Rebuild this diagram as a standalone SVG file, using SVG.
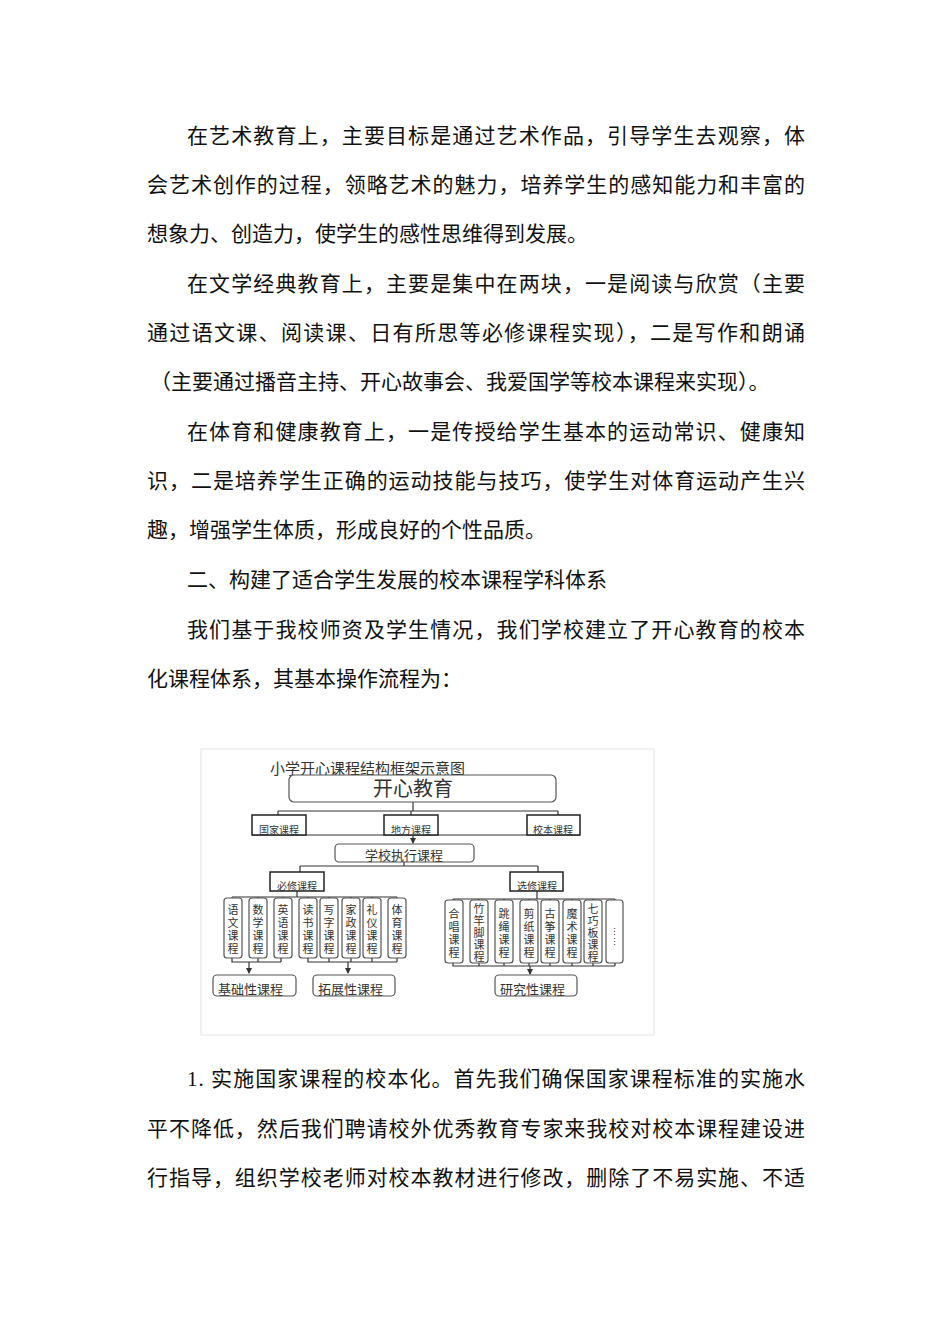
<svg xmlns="http://www.w3.org/2000/svg" width="950" height="1344" viewBox="0 0 950 1344">
<style>
.p{font-family:"Liberation Serif","Noto Sans CJK SC",serif;font-size:21px;fill:#111}
.d{font-family:"Liberation Serif","Noto Sans CJK SC",serif;fill:#333}
.b{fill:#fff;stroke:#555;stroke-width:1.2}
.k{fill:#fff;stroke:#222;stroke-width:1.5}
.l{stroke:#333;stroke-width:1.2;fill:none}
.v{font-size:11px;text-anchor:middle}
</style>
<defs><marker id="a" viewBox="0 0 6 6" refX="5" refY="3" markerWidth="5" markerHeight="5" orient="auto"><path d="M0,0L6,3L0,6z" fill="#333"/></marker></defs>
<rect width="950" height="1344" fill="#fff"/>
<g id="body">
<text class="p" x="187" y="143" textLength="618" lengthAdjust="spacing">在艺术教育上，主要目标是通过艺术作品，引导学生去观察，体</text>
<text class="p" x="147" y="192" textLength="658" lengthAdjust="spacing">会艺术创作的过程，领略艺术的魅力，培养学生的感知能力和丰富的</text>
<text class="p" x="147" y="241">想象力、创造力，使学生的感性思维得到发展。</text>
<text class="p" x="187" y="291" textLength="618" lengthAdjust="spacing">在文学经典教育上，主要是集中在两块，一是阅读与欣赏（主要</text>
<text class="p" x="147" y="340" textLength="658" lengthAdjust="spacing">通过语文课、阅读课、日有所思等必修课程实现），二是写作和朗诵</text>
<text class="p" x="150" y="389">（主要通过播音主持、开心故事会、我爱国学等校本课程来实现）。</text>
<text class="p" x="187" y="439" textLength="618" lengthAdjust="spacing">在体育和健康教育上，一是传授给学生基本的运动常识、健康知</text>
<text class="p" x="147" y="488" textLength="658" lengthAdjust="spacing">识，二是培养学生正确的运动技能与技巧，使学生对体育运动产生兴</text>
<text class="p" x="147" y="537">趣，增强学生体质，形成良好的个性品质。</text>
<text class="p" x="187" y="587">二、构建了适合学生发展的校本课程学科体系</text>
<text class="p" x="187" y="637" textLength="618" lengthAdjust="spacing">我们基于我校师资及学生情况，我们学校建立了开心教育的校本</text>
<text class="p" x="147" y="686">化课程体系，其基本操作流程为：</text>
<text class="p" x="187" y="1086" textLength="618" lengthAdjust="spacing">1. 实施国家课程的校本化。首先我们确保国家课程标准的实施水</text>
<text class="p" x="147" y="1136" textLength="658" lengthAdjust="spacing">平不降低，然后我们聘请校外优秀教育专家来我校对校本课程建设进</text>
<text class="p" x="147" y="1185" textLength="658" lengthAdjust="spacing">行指导，组织学校老师对校本教材进行修改，删除了不易实施、不适</text>
</g>
<rect x="201" y="749" width="453" height="286" fill="none" stroke="#e4e4e4"/>
<text class="d" x="270" y="774" font-size="15">小学开心课程结构框架示意图</text>
<g id="connectors">
<path class="l" d="M413,802V811M278,811H558M278,811V816M411,811V816M558,811V816M252,835H580"/>
<path class="l" d="M413,835V843" marker-end="url(#a)"/>
<path class="l" d="M404,862V866M300,866H538M300,866V872M538,866V872"/>
<path class="l" d="M297,890V897M232,897H397M232,897V899M258,897V899M283,897V899M308,897V899M329,897V899M351,897V899M372,897V899M397,897V899"/>
<path class="l" d="M232,958V962H281M258,958V962M281,958V962M308,958V962H397M329,958V962M351,958V962M372,958V962M397,958V962"/>
<path class="l" d="M249,962V973" marker-end="url(#a)"/>
<path class="l" d="M348,962V973" marker-end="url(#a)"/>
<path class="l" d="M537,890V899M453,899H615M453,899V900M479,899V900M504,899V900M529,899V900M550,899V900M572,899V900M593,899V900M615,899V900"/>
<path class="l" d="M453,963V966H615M479,963V966M504,963V966M529,963V966M550,963V966M572,963V966M593,963V966M615,963V966"/>
<path class="l" d="M530,966V974" marker-end="url(#a)"/>
</g>
<g id="n-top"><rect class="b" x="289" y="775" width="267" height="27" rx="5"/><text class="d" x="413" y="796" font-size="20" text-anchor="middle">开心教育</text></g>
<g id="n-guojia"><rect class="k" x="252" y="815" width="54" height="20"/><text class="d" x="279" y="834" font-size="10" text-anchor="middle">国家课程</text></g>
<g id="n-difang"><rect class="k" x="384" y="815" width="54" height="20"/><text class="d" x="411" y="834" font-size="10" text-anchor="middle">地方课程</text></g>
<g id="n-xiaoben"><rect class="k" x="527" y="815" width="53" height="20"/><text class="d" x="553" y="834" font-size="10" text-anchor="middle">校本课程</text></g>
<g id="n-zhixing"><rect class="b" x="335" y="844" width="139" height="18" rx="4"/><text class="d" x="404" y="860" font-size="13" text-anchor="middle">学校执行课程</text></g>
<g id="n-bixiu"><rect class="k" x="270" y="872" width="54" height="19"/><text class="d" x="297" y="890" font-size="10" text-anchor="middle">必修课程</text></g>
<g id="n-xuanxiu"><rect class="k" x="510" y="872" width="53" height="19"/><text class="d" x="537" y="890" font-size="10" text-anchor="middle">选修课程</text></g>
<g class="d v">
<g id="n1"><rect class="b" x="224" y="898" width="18" height="60" rx="3"/><text x="233" y="914">语</text><text x="233" y="927">文</text><text x="233" y="940">课</text><text x="233" y="953">程</text></g>
<g id="n2"><rect class="b" x="249" y="898" width="18" height="60" rx="3"/><text x="258" y="914">数</text><text x="258" y="927">学</text><text x="258" y="940">课</text><text x="258" y="953">程</text></g>
<g id="n3"><rect class="b" x="274" y="898" width="18" height="60" rx="3"/><text x="283" y="914">英</text><text x="283" y="927">语</text><text x="283" y="940">课</text><text x="283" y="953">程</text></g>
<g id="n4"><rect class="b" x="299" y="898" width="18" height="60" rx="3"/><text x="308" y="914">读</text><text x="308" y="927">书</text><text x="308" y="940">课</text><text x="308" y="953">程</text></g>
<g id="n5"><rect class="b" x="320" y="898" width="18" height="60" rx="3"/><text x="329" y="914">写</text><text x="329" y="927">字</text><text x="329" y="940">课</text><text x="329" y="953">程</text></g>
<g id="n6"><rect class="b" x="342" y="898" width="18" height="60" rx="3"/><text x="351" y="914">家</text><text x="351" y="927">政</text><text x="351" y="940">课</text><text x="351" y="953">程</text></g>
<g id="n7"><rect class="b" x="363" y="898" width="18" height="60" rx="3"/><text x="372" y="914">礼</text><text x="372" y="927">仪</text><text x="372" y="940">课</text><text x="372" y="953">程</text></g>
<g id="n8"><rect class="b" x="388" y="898" width="18" height="60" rx="3"/><text x="397" y="914">体</text><text x="397" y="927">育</text><text x="397" y="940">课</text><text x="397" y="953">程</text></g>
<g id="m1"><rect class="b" x="445" y="900" width="18" height="63" rx="3"/><text x="454" y="918">合</text><text x="454" y="931">唱</text><text x="454" y="944">课</text><text x="454" y="957">程</text></g>
<g id="m2"><rect class="b" x="470" y="900" width="18" height="63" rx="3"/><text x="479" y="913">竹</text><text x="479" y="925">竿</text><text x="479" y="937">脚</text><text x="479" y="949">课</text><text x="479" y="961">程</text></g>
<g id="m3"><rect class="b" x="495" y="900" width="18" height="63" rx="3"/><text x="504" y="918">跳</text><text x="504" y="931">绳</text><text x="504" y="944">课</text><text x="504" y="957">程</text></g>
<g id="m4"><rect class="b" x="520" y="900" width="18" height="63" rx="3"/><text x="529" y="918">剪</text><text x="529" y="931">纸</text><text x="529" y="944">课</text><text x="529" y="957">程</text></g>
<g id="m5"><rect class="b" x="541" y="900" width="18" height="63" rx="3"/><text x="550" y="918">古</text><text x="550" y="931">筝</text><text x="550" y="944">课</text><text x="550" y="957">程</text></g>
<g id="m6"><rect class="b" x="563" y="900" width="18" height="63" rx="3"/><text x="572" y="918">魔</text><text x="572" y="931">术</text><text x="572" y="944">课</text><text x="572" y="957">程</text></g>
<g id="m7"><rect class="b" x="584" y="900" width="18" height="63" rx="3"/><text x="593" y="913">七</text><text x="593" y="925">巧</text><text x="593" y="937">板</text><text x="593" y="949">课</text><text x="593" y="961">程</text></g>
<g id="m8"><rect class="b" x="606" y="900" width="17" height="63" rx="3"/><text x="614" y="935" font-size="9">⋮</text><text x="614" y="945" font-size="9">⋮</text></g>
</g>
<g id="n-jichu"><rect class="b" x="213" y="975" width="83" height="21" rx="4"/><text class="d" x="218" y="994" font-size="13">基础性课程</text></g>
<g id="n-tuozhan"><rect class="b" x="313" y="975" width="82" height="21" rx="4"/><text class="d" x="318" y="994" font-size="13">拓展性课程</text></g>
<g id="n-yanjiu"><rect class="b" x="495" y="975" width="82" height="21" rx="4"/><text class="d" x="500" y="994" font-size="13">研究性课程</text></g>
</svg>
